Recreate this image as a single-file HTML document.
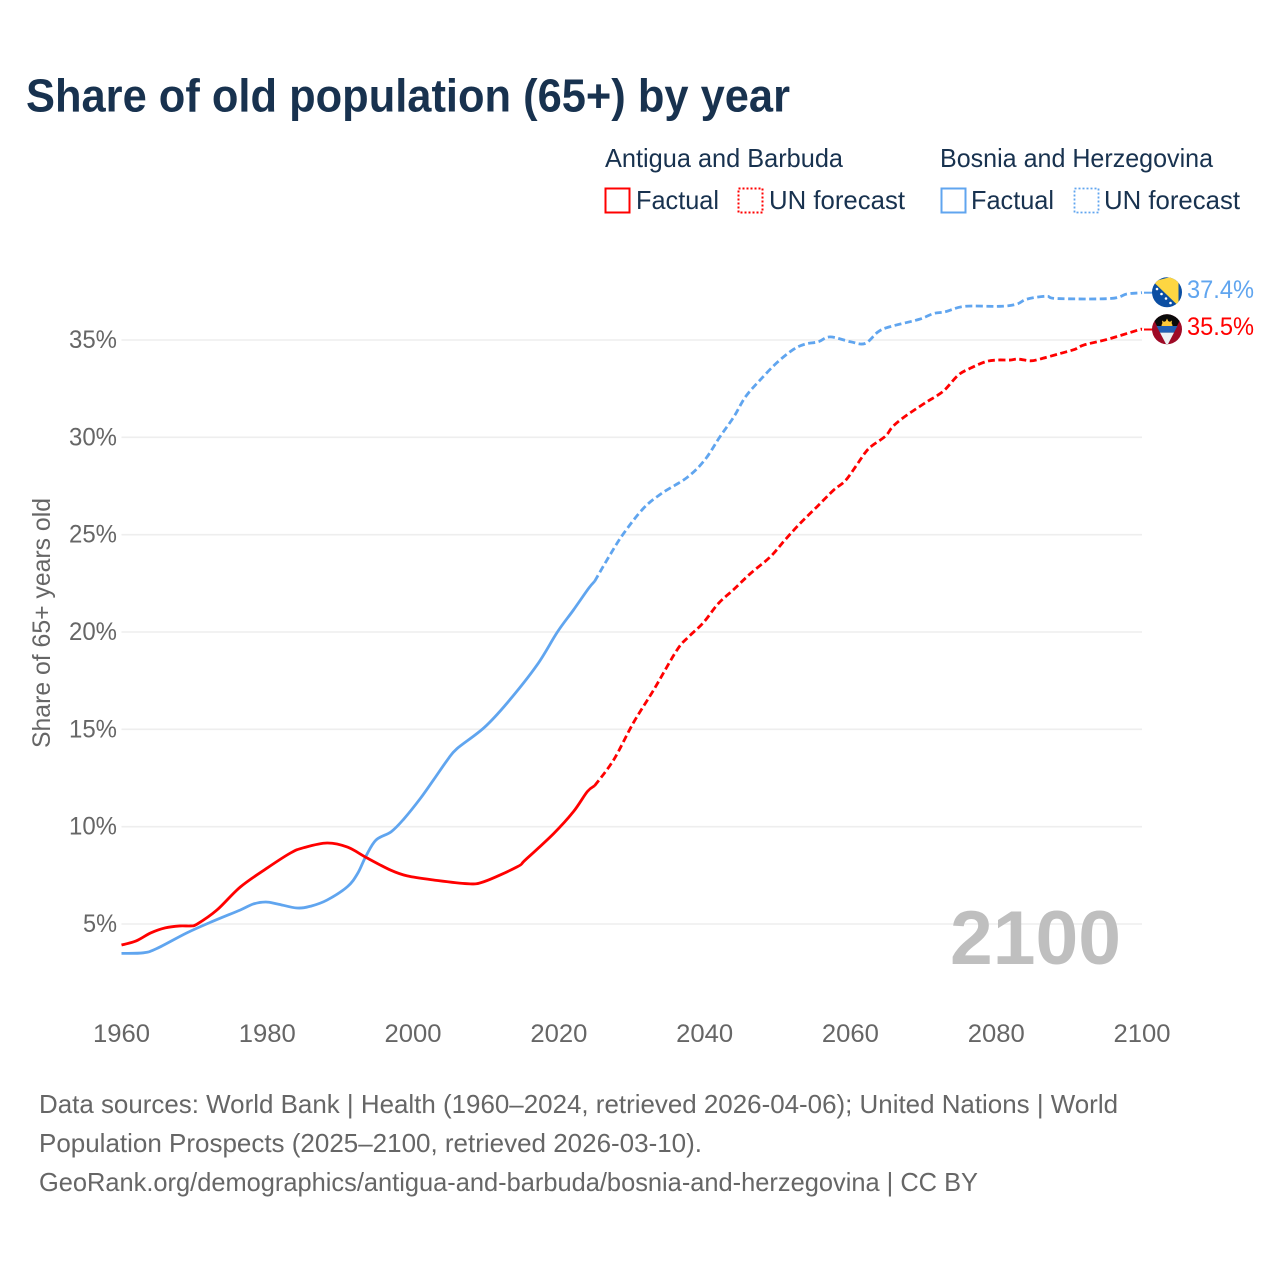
<!DOCTYPE html>
<html lang="en">
<head>
<meta charset="utf-8">
<title>Share of old population (65+) by year</title>
<style>
html,body{margin:0;padding:0;background:#fff;}
svg{display:block;font-family:"Liberation Sans",sans-serif;}
.legend{font-size:26px;fill:#18324f;}
.tick{font-size:25px;fill:#666;}
.foot{font-size:26px;fill:#666;}
</style>
</head>
<body>
<svg id="chart" width="1280" height="1280" viewBox="0 0 1280 1280" xmlns="http://www.w3.org/2000/svg">
  <rect width="1280" height="1280" fill="#fff"/>
  <text x="26" y="111.5" font-size="46" font-weight="700" fill="#18324f" textLength="764" lengthAdjust="spacingAndGlyphs">Share of old population (65+) by year</text>

  <g>
    <text class="legend" x="605" y="167" textLength="238" lengthAdjust="spacingAndGlyphs">Antigua and Barbuda</text>
    <text class="legend" x="940" y="167" textLength="273" lengthAdjust="spacingAndGlyphs">Bosnia and Herzegovina</text>
    <rect x="605.5" y="188.5" width="24" height="24" fill="none" stroke="#ff0000" stroke-width="2"/>
    <text class="legend" x="636" y="209" textLength="83" lengthAdjust="spacingAndGlyphs">Factual</text>
    <rect x="738.5" y="188.5" width="24" height="24" fill="none" stroke="#ff0000" stroke-width="2" stroke-dasharray="2 2"/>
    <text class="legend" x="769" y="209" textLength="136" lengthAdjust="spacingAndGlyphs">UN forecast</text>
    <rect x="941.5" y="188.5" width="24" height="24" fill="none" stroke="#60a5ef" stroke-width="2"/>
    <text class="legend" x="971" y="209" textLength="83" lengthAdjust="spacingAndGlyphs">Factual</text>
    <rect x="1074.5" y="188.5" width="24" height="24" fill="none" stroke="#60a5ef" stroke-width="1.8" stroke-dasharray="2 2"/>
    <text class="legend" x="1104" y="209" textLength="136" lengthAdjust="spacingAndGlyphs">UN forecast</text>
  </g>

  <g id="grid"></g>
  <g id="yticks"></g>
  <g id="xticks"></g>
  <text class="tick" transform="translate(50,748) rotate(-90)" textLength="250" lengthAdjust="spacingAndGlyphs">Share of 65+ years old</text>
  <text x="950" y="964" font-size="76" font-weight="700" fill="#bfbfbf" textLength="171" lengthAdjust="spacingAndGlyphs">2100</text>

  <g id="series"></g>

  <defs>
    <clipPath id="clipBa"><circle cx="1167" cy="292.3" r="15"/></clipPath>
    <clipPath id="clipAg"><circle cx="1167" cy="329.3" r="15"/></clipPath>
  </defs>
  <g clip-path="url(#clipBa)">
    <rect x="1150" y="275" width="34" height="34" fill="#0b4ea2"/>
    <polygon points="1153,281.5 1178.5,275 1178.5,306" fill="#fdd642"/>
    <circle cx="1157" cy="289" r="1.3" fill="#fff"/>
    <circle cx="1161.5" cy="294" r="1.3" fill="#fff"/>
    <circle cx="1166" cy="298.5" r="1.3" fill="#fff"/>
    <circle cx="1170.5" cy="303" r="1.3" fill="#fff"/>
  </g>
  <g clip-path="url(#clipAg)">
    <rect x="1150" y="312" width="34" height="36" fill="#9e0a26"/>
    <polygon points="1150,312 1184,312 1167,346" fill="#0a0a0a"/>
    <polygon points="1156.6,326 1177.4,326 1174,332.6 1160,332.6" fill="#1f5fb5"/>
    <polygon points="1160,332.6 1174,332.6 1167,346" fill="#eef1f4"/>
    <path d="M1161.5 326 a5.5 5 0 0 1 11 0 z" fill="#fcc93a"/>
    <polygon points="1167,318.5 1168.6,322 1165.4,322" fill="#fcc93a"/>
    <polygon points="1162,320.5 1165,322.5 1162.5,324" fill="#fcc93a"/>
    <polygon points="1172,320.5 1169,322.5 1171.5,324" fill="#fcc93a"/>
  </g>
  <text id="labelBa" x="1187" y="298" font-size="25" fill="#60a5ef" textLength="67" lengthAdjust="spacingAndGlyphs"></text>
  <text id="labelAg" x="1187" y="335" font-size="25" fill="#ff0000" textLength="67" lengthAdjust="spacingAndGlyphs"></text>

  <g>
    <text class="foot" x="39" y="1113" textLength="1079" lengthAdjust="spacingAndGlyphs">Data sources: World Bank | Health (1960–2024, retrieved 2026-04-06); United Nations | World</text>
    <text class="foot" x="39" y="1152" textLength="663" lengthAdjust="spacingAndGlyphs">Population Prospects (2025–2100, retrieved 2026-03-10).</text>
    <text class="foot" x="39" y="1191" textLength="939" lengthAdjust="spacingAndGlyphs">GeoRank.org/demographics/antigua-and-barbuda/bosnia-and-herzegovina | CC BY</text>
  </g>
</svg>
<script>
const xTickYears = [1960, 1980, 2000, 2020, 2040, 2060, 2080, 2100];
const yTickValues = [5, 10, 15, 20, 25, 30, 35];

const antiguaFactualYears = [1960, 1962, 1964, 1966, 1968, 1969.5, 1970.4, 1973.1, 1976.3, 1980, 1983.2, 1985, 1988.2, 1991, 1993.7, 1996.9, 1999.2, 2002.8, 2007.4, 2009.7, 2014.3, 2015.4, 2019.3, 2022, 2023.9, 2024.9];
const antiguaFactualValues = [3.92, 4.13, 4.54, 4.8, 4.9, 4.9, 5.0, 5.72, 6.9, 7.88, 8.65, 8.92, 9.16, 8.95, 8.39, 7.77, 7.47, 7.26, 7.07, 7.17, 7.94, 8.29, 9.65, 10.77, 11.8, 12.1];

const antiguaForecastYears = [2024.9, 2027.5, 2030.2, 2033, 2036.2, 2037.8, 2039.8, 2041.9, 2044, 2046.3, 2049, 2051, 2053.1, 2055.4, 2057.7, 2059.3, 2060.9, 2062, 2062.9, 2064.8, 2065.7, 2066.8, 2068.2, 2070.5, 2071.8, 2073, 2074.8, 2076.4, 2078.5, 2080.1, 2081.9, 2083, 2084.7, 2086, 2088.8, 2090.8, 2092, 2095.2, 2097.9, 2099.7, 2100];
const antiguaForecastValues = [12.1, 13.42, 15.32, 17.02, 19.07, 19.75, 20.47, 21.47, 22.19, 23.01, 23.86, 24.72, 25.58, 26.43, 27.29, 27.77, 28.6, 29.2, 29.55, 30.06, 30.51, 30.88, 31.26, 31.83, 32.12, 32.46, 33.2, 33.54, 33.88, 33.97, 33.97, 34.02, 33.93, 34.02, 34.31, 34.52, 34.74, 35.03, 35.33, 35.54, 35.54];

const bosniaFactualYears = [1960, 1963, 1964.9, 1969, 1972.6, 1976.3, 1978.1, 1979.8, 1981.4, 1984.1, 1986, 1988.2, 1991, 1992.4, 1993.5, 1994.9, 1997, 1998.7, 2001, 2002.8, 2004.7, 2006, 2009.7, 2012.9, 2017, 2019.8, 2022, 2024.1, 2024.9];
const bosniaFactualValues = [3.49, 3.52, 3.75, 4.55, 5.15, 5.72, 6.03, 6.13, 6.03, 5.82, 5.92, 6.23, 6.92, 7.6, 8.46, 9.31, 9.74, 10.38, 11.45, 12.4, 13.42, 14.0, 15.07, 16.35, 18.3, 20.0, 21.13, 22.25, 22.6];

const bosniaForecastYears = [2024.9, 2027, 2028.9, 2031.6, 2034.1, 2037.6, 2040, 2042.1, 2044, 2045.6, 2047.6, 2049.9, 2052.2, 2053.8, 2055.6, 2057.2, 2060, 2062, 2063.8, 2065.4, 2069.4, 2071.4, 2073, 2075.7, 2080.5, 2082.8, 2084.2, 2086.9, 2088.3, 2095.6, 2097.9, 2099.7, 2100];
const bosniaForecastValues = [22.6, 23.95, 25.07, 26.35, 27.12, 27.94, 28.83, 30.03, 31.05, 32.08, 32.94, 33.83, 34.52, 34.79, 34.91, 35.16, 34.91, 34.82, 35.42, 35.68, 36.06, 36.36, 36.45, 36.73, 36.73, 36.84, 37.1, 37.25, 37.13, 37.13, 37.36, 37.42, 37.43];

const svgNS = 'http://www.w3.org/2000/svg';
const x0 = 121.5, x1 = 1142, yearMin = 1960, yearMax = 2100;
const yAt5 = 924, yAt35 = 340;
function xScale(year) { return x0 + (year - yearMin) * (x1 - x0) / (yearMax - yearMin); }
function yScale(value) { return yAt5 + (value - 5) * (yAt35 - yAt5) / 30; }

function make(tag, parent, attrs) {
  const node = document.createElementNS(svgNS, tag);
  Object.keys(attrs).forEach(function (k) { node.setAttribute(k, attrs[k]); });
  parent.appendChild(node);
  return node;
}

function smoothPath(years, values) {
  const pts = years.map(function (yr, i) { return [xScale(yr), yScale(values[i])]; });
  let d = 'M' + pts[0][0].toFixed(2) + ' ' + pts[0][1].toFixed(2);
  for (let i = 0; i < pts.length - 1; i++) {
    const p0 = pts[Math.max(i - 1, 0)], p1 = pts[i], p2 = pts[i + 1], p3 = pts[Math.min(i + 2, pts.length - 1)];
    const c1x = p1[0] + (p2[0] - p0[0]) / 6, c1y = p1[1] + (p2[1] - p0[1]) / 6;
    const c2x = p2[0] - (p3[0] - p1[0]) / 6, c2y = p2[1] - (p3[1] - p1[1]) / 6;
    d += 'C' + c1x.toFixed(2) + ' ' + c1y.toFixed(2) + ' ' + c2x.toFixed(2) + ' ' + c2y.toFixed(2) + ' ' + p2[0].toFixed(2) + ' ' + p2[1].toFixed(2);
  }
  return d;
}

const gridG = document.getElementById('grid');
const yTicksG = document.getElementById('yticks');
const xTicksG = document.getElementById('xticks');
const seriesG = document.getElementById('series');

yTickValues.forEach(function (v) {
  const line = make('line', gridG, { x1: x0, x2: x1, y1: yScale(v), y2: yScale(v), stroke: '#eeeeee', 'stroke-width': 1.6 });
  
  
  const label = make('text', yTicksG, { x: 117, y: yScale(v) + 8, 'text-anchor': 'end', class: 'tick', textLength: v < 10 ? 34 : 48, lengthAdjust: 'spacingAndGlyphs' });
  label.textContent = v + '%';
  
  
});

xTickYears.forEach(function (yr) {
  const label = make('text', xTicksG, { x: xScale(yr), y: 1042, 'text-anchor': 'middle', class: 'tick', textLength: 57, lengthAdjust: 'spacingAndGlyphs' });
  label.textContent = String(yr);
  
  
});

function drawLine(years, values, color, dashed) {
  const attrs = { d: smoothPath(years, values), fill: 'none', stroke: color, 'stroke-width': 2.8, 'stroke-linejoin': 'round' };
  if (dashed) { attrs['stroke-dasharray'] = '7 3.5'; }
  return make('path', seriesG, attrs);
}

const bosniaFactualLine = drawLine(bosniaFactualYears, bosniaFactualValues, '#60a5ef', false);



const bosniaForecastLine = drawLine(bosniaForecastYears, bosniaForecastValues, '#60a5ef', true);



const antiguaFactualLine = drawLine(antiguaFactualYears, antiguaFactualValues, '#ff0000', false);



const antiguaForecastLine = drawLine(antiguaForecastYears, antiguaForecastValues, '#ff0000', true);



const lastBosnia = bosniaForecastValues[bosniaForecastValues.length - 1];
const lastAntigua = antiguaForecastValues[antiguaForecastValues.length - 1];

const bosniaStub = make('line', seriesG, { x1: x1 + 2, x2: 1153, y1: yScale(lastBosnia), y2: yScale(lastBosnia), stroke: '#60a5ef', 'stroke-width': 2 });



const antiguaStub = make('line', seriesG, { x1: x1 + 2, x2: 1153, y1: yScale(lastAntigua), y2: yScale(lastAntigua), stroke: '#ff0000', 'stroke-width': 2 });



document.getElementById('labelBa').textContent = lastBosnia.toFixed(1) + '%';
document.getElementById('labelAg').textContent = lastAntigua.toFixed(1) + '%';
</script>
</body>
</html>
